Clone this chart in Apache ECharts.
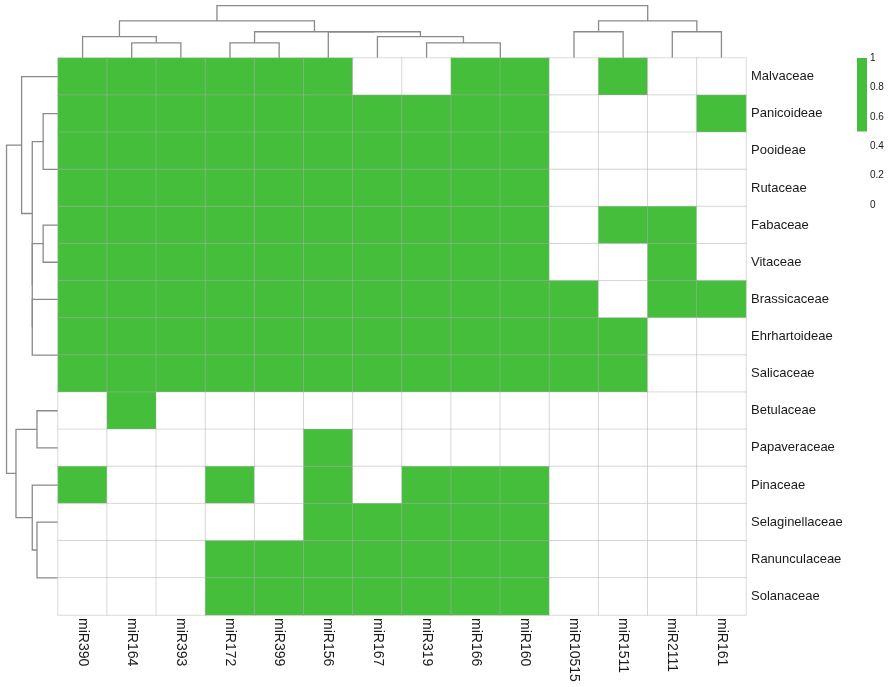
<!DOCTYPE html>
<html>
<head>
<meta charset="utf-8">
<script src="https://cdn.jsdelivr.net/npm/echarts@6/dist/echarts.min.js"></script>
<style>
html,body{margin:0;padding:0;background:#fff;}
#chart{width:890px;height:687px;}
</style>
</head>
<body>
<div id="chart"></div>
<script>
// ---- data ----
const cols = ['miR390','miR164','miR393','miR172','miR399','miR156','miR167','miR319','miR166','miR160','miR10515','miR1511','miR2111','miR161'];
const rows = ['Malvaceae','Panicoideae','Pooideae','Rutaceae','Fabaceae','Vitaceae','Brassicaceae','Ehrhartoideae','Salicaceae','Betulaceae','Papaveraceae','Pinaceae','Selaginellaceae','Ranunculaceae','Solanaceae'];
// presence (1) / absence (0), one array per row, columns in the order above
const cellValues = [
  [1,1,1,1,1,1,0,0,1,1,0,1,0,0],
  [1,1,1,1,1,1,1,1,1,1,0,0,0,1],
  [1,1,1,1,1,1,1,1,1,1,0,0,0,0],
  [1,1,1,1,1,1,1,1,1,1,0,0,0,0],
  [1,1,1,1,1,1,1,1,1,1,0,1,1,0],
  [1,1,1,1,1,1,1,1,1,1,0,0,1,0],
  [1,1,1,1,1,1,1,1,1,1,1,0,1,1],
  [1,1,1,1,1,1,1,1,1,1,1,1,0,0],
  [1,1,1,1,1,1,1,1,1,1,1,1,0,0],
  [0,1,0,0,0,0,0,0,0,0,0,0,0,0],
  [0,0,0,0,0,1,0,0,0,0,0,0,0,0],
  [1,0,0,1,0,1,0,1,1,1,0,0,0,0],
  [0,0,0,0,0,1,1,1,1,1,0,0,0,0],
  [0,0,0,1,1,1,1,1,1,1,0,0,0,0],
  [0,0,0,1,1,1,1,1,1,1,0,0,0,0]
];
// hclust-style merges: [childA, childB, height]; negative = leaf (1-based display position), positive = earlier merge
const colMerges = [
  [-9, -10, 0],
  [-8, 1, 1],
  [-7, 2, 1.414],
  [-6, 3, 1.732],
  [-4, -5, 1],
  [5, 4, 1.732],
  [-2, -3, 1],
  [-1, 7, 1.414],
  [8, 6, 2.449],
  [-11, -12, 1.732],
  [-13, -14, 1.732],
  [10, 11, 2.449],
  [9, 12, 3.464]
];
const rowMerges = [
  [-3, -4, 0],
  [-2, 1, 1],
  [-5, -6, 1],
  [-8, -9, 0],
  [-7, 4, 1.732],
  [3, 5, 1.732],
  [2, 6, 1.732],
  [-1, 7, 2.449],
  [-10, -11, 1.414],
  [-14, -15, 0],
  [-13, 10, 1.414],
  [-12, 11, 1.732],
  [9, 12, 2.828],
  [8, 13, 3.464]
];
const legendTicks = [0, 0.2, 0.4, 0.6, 0.8, 1];
const legendBandLow = [0.5];   // white band 0 - 0.5
const legendBandHigh = [0.5];  // green band 0.5 - 1

// ---- styling ----
const GREEN = '#44be3b';
const LINE = '#8a8a8a';
const TXT = '#1a1a1a';
const FONT = '"Liberation Sans", Arial, Helvetica, sans-serif';

function dendroSegments(merges, orient) {
  const pos = [], hts = [], seg = [];
  merges.forEach((m, i) => {
    const get = k => k < 0 ? [(-k) - 0.5, 0] : [pos[k - 1], hts[k - 1]];
    const a = get(m[0]), b = get(m[1]), h = m[2];
    pos[i] = (a[0] + b[0]) / 2; hts[i] = h;
    if (h > 0) {
      const pts = [[a[0], a[1]], [a[0], h], [b[0], h], [b[0], b[1]]];
      seg.push({ coords: orient === 'top' ? pts : pts.map(p => [p[1], p[0]]) });
    }
  });
  return seg;
}

const heatData = [];
cellValues.forEach((r, ri) => r.forEach((v, ci) => heatData.push([ci, ri, v])));

const chart = echarts.init(document.getElementById('chart'), null, { renderer: 'canvas' });
chart.setOption({
  animation: false,
  backgroundColor: '#ffffff',
  textStyle: { fontFamily: FONT },
  grid: [
    { left: 58, top: 58, width: 688, height: 557 },
    { left: 58, top: 5, width: 688, height: 53 },
    { left: 6, top: 58, width: 52, height: 557 },
    { left: 857, top: 58, width: 10, height: 147 }
  ],
  xAxis: [
    { gridIndex: 0, type: 'category', data: cols, position: 'bottom',
      axisLine: { show: false }, axisTick: { show: false }, splitLine: { show: false },
      axisLabel: { rotate: -90, fontSize: 14, color: TXT, margin: 3, fontFamily: FONT, interval: 0 } },
    { gridIndex: 1, type: 'value', min: 0, max: cols.length, show: false },
    { gridIndex: 2, type: 'value', min: 0, max: 3.5, inverse: true, show: false },
    { gridIndex: 3, type: 'category', data: ['legend'], show: false }
  ],
  yAxis: [
    { gridIndex: 0, type: 'category', data: rows, inverse: true, position: 'right',
      axisLine: { show: false }, axisTick: { show: false }, splitLine: { show: false },
      axisLabel: { fontSize: 13, color: TXT, margin: 5, fontFamily: FONT, interval: 0 } },
    { gridIndex: 1, type: 'value', min: 0, max: 3.5, show: false },
    { gridIndex: 2, type: 'value', min: 0, max: rows.length, inverse: true, show: false },
    { gridIndex: 3, type: 'value', min: 0, max: 1, interval: 0.2, position: 'right',
      axisLine: { show: false }, axisTick: { show: false }, splitLine: { show: false },
      axisLabel: { fontSize: 10, color: TXT, margin: 3, fontFamily: FONT,
        formatter: v => legendTicks.indexOf(Math.round(v * 10) / 10) >= 0 ? String(Math.round(v * 10) / 10) : '' } }
  ],
  visualMap: {
    show: false, type: 'piecewise', seriesIndex: 0, dimension: 2,
    pieces: [ { lt: 0.5, color: '#ffffff' }, { gte: 0.5, color: GREEN } ]
  },
  series: [
    { type: 'heatmap', xAxisIndex: 0, yAxisIndex: 0, data: heatData, z: 3,
      itemStyle: { borderColor: 'rgba(175,175,175,0.45)', borderWidth: 1 },
      emphasis: { disabled: true } },
    { type: 'lines', coordinateSystem: 'cartesian2d', xAxisIndex: 1, yAxisIndex: 1, polyline: true,
      data: dendroSegments(colMerges, 'top'), z: 2,
      lineStyle: { color: LINE, width: 1.3, opacity: 1 } },
    { type: 'lines', coordinateSystem: 'cartesian2d', xAxisIndex: 2, yAxisIndex: 2, polyline: true,
      data: dendroSegments(rowMerges, 'left'), z: 2,
      lineStyle: { color: LINE, width: 1.3, opacity: 1 } },
    { type: 'bar', xAxisIndex: 3, yAxisIndex: 3, stack: 'lg', barWidth: '100%', data: legendBandLow,
      itemStyle: { color: 'rgba(255,255,255,0)' }, silent: true },
    { type: 'bar', xAxisIndex: 3, yAxisIndex: 3, stack: 'lg', barWidth: '100%', data: legendBandHigh,
      itemStyle: { color: GREEN }, silent: true }
  ]
});
</script>
</body>
</html>
